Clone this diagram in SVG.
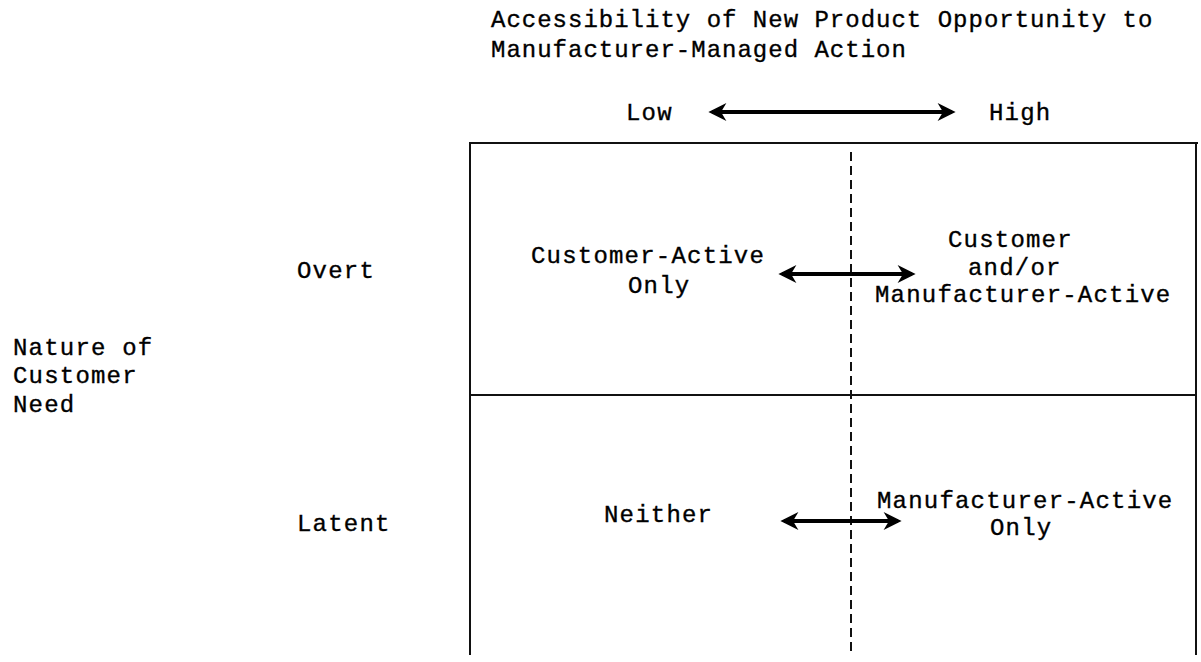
<svg xmlns="http://www.w3.org/2000/svg" width="1201" height="662" viewBox="0 0 1201 662">
<style>
text{font-family:"Liberation Mono","Courier New",monospace;font-size:24px;letter-spacing:1.2px;fill:#000;stroke:#000;stroke-width:0.35px}
.t{letter-spacing:1px}
.ln{stroke:#111;stroke-width:2;fill:none}
.dash{stroke:#111;stroke-width:2;stroke-dasharray:9,5;fill:none}
.arr{stroke:#000;stroke-width:4;fill:none}
</style>
<defs>
<marker id="ah" viewBox="0 0 10 10" refX="8" refY="5" markerWidth="6" markerHeight="4.5" orient="auto-start-reverse" markerUnits="strokeWidth">
<path d="M0,0 L10,5 L0,10 L3,5 Z" fill="#000"/>
</marker>
</defs>
<g id="title">
<text class="t" x="491" y="27">Accessibility of New Product Opportunity to</text>
<text class="t" x="491" y="57">Manufacturer-Managed Action</text>
</g>
<g id="axis-top">
<text x="626" y="120">Low</text>
<text x="989" y="120">High</text>
</g>
<g id="grid">
<line class="ln" x1="469" y1="143" x2="1198" y2="143"/>
<line class="ln" x1="470" y1="143" x2="470" y2="655"/>
<line class="ln" x1="1196" y1="143" x2="1196" y2="655"/>
<line class="ln" x1="470" y1="395" x2="1196" y2="395"/>
<line class="dash" x1="851" y1="152" x2="851" y2="655"/>
</g>
<g id="axis-left">
<text x="13" y="355">Nature of</text>
<text x="13" y="383">Customer</text>
<text x="13" y="412">Need</text>
<text x="297" y="278">Overt</text>
<text x="297" y="531">Latent</text>
</g>
<g id="q-tl"><text x="531" y="263">Customer-Active</text><text x="628" y="293">Only</text></g>
<g id="q-tr"><text x="948" y="247">Customer</text><text x="968" y="275">and/or</text><text x="875" y="302">Manufacturer-Active</text></g>
<g id="q-bl"><text x="604" y="522">Neither</text></g>
<g id="q-br"><text x="877" y="508">Manufacturer-Active</text><text x="990" y="535">Only</text></g>
<g id="connectors">
<line class="arr" x1="712" y1="112" x2="952" y2="112" marker-start="url(#ah)" marker-end="url(#ah)"/>
<line class="arr" x1="782" y1="274" x2="912" y2="274" marker-start="url(#ah)" marker-end="url(#ah)"/>
<line class="arr" x1="784" y1="521" x2="898" y2="521" marker-start="url(#ah)" marker-end="url(#ah)"/>
</g>
</svg>
